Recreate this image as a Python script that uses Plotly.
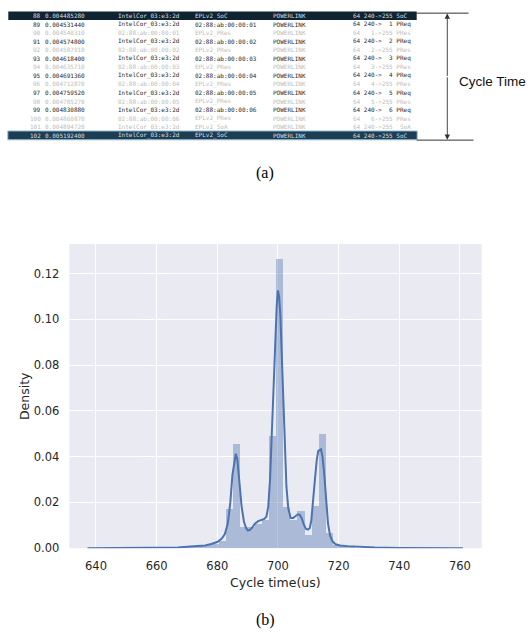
import plotly.graph_objects as go

# ---------------- data: (a) packet capture rows ----------------
pkt_no = [88, 89, 90, 91, 92, 93, 94, 95, 96, 97, 98, 99, 100, 101, 102]
pkt_time = ["0.004485280", "0.004531440", "0.004540310", "0.004574800", "0.004587910",
            "0.004618400", "0.004635710", "0.004691360", "0.004712870", "0.004759520",
            "0.004785270", "0.004830880", "0.004860870", "0.004894720", "0.005192400"]
pkt_src = ["IntelCor_03:e3:2d", "IntelCor_03:e3:2d", "02:88:ab:00:00:01", "IntelCor_03:e3:2d",
           "02:88:ab:00:00:02", "IntelCor_03:e3:2d", "02:88:ab:00:00:03", "IntelCor_03:e3:2d",
           "02:88:ab:00:00:04", "IntelCor_03:e3:2d", "02:88:ab:00:00:05", "IntelCor_03:e3:2d",
           "02:88:ab:00:00:06", "IntelCor_03:e3:2d", "IntelCor_03:e3:2d"]
pkt_dst = ["EPLv2_SoC", "02:88:ab:00:00:01", "EPLv2_PRes", "02:88:ab:00:00:02", "EPLv2_PRes",
           "02:88:ab:00:00:03", "EPLv2_PRes", "02:88:ab:00:00:04", "EPLv2_PRes",
           "02:88:ab:00:00:05", "EPLv2_PRes", "02:88:ab:00:00:06", "EPLv2_PRes",
           "EPLv2_SoA", "EPLv2_SoC"]
pkt_proto = ["POWERLINK"] * 15
pkt_info = ["64 240->255 SoC", "64 240->  1 PReq", "64   1->255 PRes", "64 240->  2 PReq",
            "64   2->255 PRes", "64 240->  3 PReq", "64   3->255 PRes", "64 240->  4 PReq",
            "64   4->255 PRes", "64 240->  5 PReq", "64   5->255 PRes", "64 240->  6 PReq",
            "64   6->255 PRes", "64 240->255  SoA", "64 240->255 SoC"]
pkt_kind = ["soc", "req", "res", "req", "res", "req", "res", "req", "res", "req", "res",
            "req", "res", "res", "soc2"]

# ---------------- data: (b) histogram + KDE ----------------
bin_edges = [668.8, 671.1, 673.5, 675.9, 678.2, 680.6, 682.9, 685.3, 687.6, 690.0, 692.4,
             694.7, 697.1, 699.4, 701.8, 704.2, 706.5, 708.9, 711.2, 713.6, 716.0, 718.3,
             720.7, 723.0, 725.4]
bin_density = [0.0004, 0.0008, 0.001, 0.0014, 0.002, 0.003, 0.017, 0.0455, 0.0093, 0.0093,
               0.0106, 0.0122, 0.049, 0.1264, 0.0181, 0.0122, 0.0162, 0.0057, 0.0184, 0.0498,
               0.0065, 0.0015, 0.0008, 0.0005]
kde_x = [637.2, 645, 655, 662, 667, 670, 673, 676, 678, 680, 681.5, 682.5, 683.5, 684.3, 685.0,
         685.6, 686.1, 686.6, 687.2, 688.0, 688.8, 689.5, 690.1, 690.8, 691.6, 692.5, 693.5,
         694.5, 695.5, 696.2, 696.8, 697.4, 698.0, 698.6, 699.2, 699.6, 700.0, 700.4, 700.8,
         701.3, 701.8, 702.3, 702.8, 703.4, 704.2, 705.0, 705.8, 706.6, 707.2, 707.8, 708.5,
         709.2, 709.9, 710.5, 711.0, 711.6, 712.2, 712.8, 713.3, 714.2, 714.7, 715.3, 715.9,
         716.5, 717.2, 718.0, 719.0, 720.5, 723, 727, 732, 740, 750, 761.0]
kde_y = [0.0, 0.0, 0.00002, 0.0001, 0.0003, 0.0006, 0.0009, 0.0012, 0.0018, 0.0027, 0.0042,
         0.0062, 0.011, 0.02, 0.032, 0.038, 0.0413, 0.039, 0.031, 0.0185, 0.0115, 0.0088,
         0.0077, 0.008, 0.0092, 0.0108, 0.0118, 0.0123, 0.0128, 0.0138, 0.018, 0.03, 0.05,
         0.073, 0.095, 0.106, 0.1127, 0.11, 0.102, 0.083, 0.06, 0.04, 0.027, 0.0175, 0.0132,
         0.0132, 0.014, 0.0148, 0.0146, 0.0132, 0.0105, 0.0085, 0.0081, 0.0088, 0.012, 0.0195,
         0.03, 0.0385, 0.0425, 0.0432, 0.04, 0.032, 0.0205, 0.011, 0.0055, 0.003, 0.0017,
         0.0012, 0.0009, 0.0006, 0.0003, 0.0001, 0.00002, 0.0]
x_ticks = [640, 660, 680, 700, 720, 740, 760]
y_ticks = [0.00, 0.02, 0.04, 0.06, 0.08, 0.10, 0.12]

# ---------------- layout helpers ----------------
W, H = 532, 634
def px(x):
    return x / W
def py(y):
    return 1 - y / H

BLUE = "#4c72b0"
fig = go.Figure()

centers = [(bin_edges[i] + bin_edges[i + 1]) / 2 for i in range(len(bin_density))]
widths = [bin_edges[i + 1] - bin_edges[i] for i in range(len(bin_density))]
fig.add_trace(go.Bar(x=centers, y=bin_density, width=widths,
                     marker=dict(color="rgba(76,114,176,0.4)", line=dict(width=0)),
                     showlegend=False, hoverinfo="skip"))
fig.add_trace(go.Scatter(x=kde_x, y=kde_y, mode="lines",
                         line=dict(color=BLUE, width=2), showlegend=False))

tickfont = dict(family="DejaVu Sans", size=11.5, color="#262626")
fig.update_layout(
    width=W, height=H, margin=dict(l=0, r=0, t=0, b=0),
    paper_bgcolor="white", plot_bgcolor="#eaeaf2", bargap=0,
    xaxis=dict(domain=[px(69.3), px(481.7)], range=[631.2, 767.2], tickvals=x_ticks,
               showgrid=True, gridcolor="white", gridwidth=1.3, zeroline=False,
               showline=False, ticks="", tickfont=tickfont, ticklabelstandoff=9),
    yaxis=dict(domain=[py(554.3), py(246.7)], range=[0, 0.133], tickvals=y_ticks,
               tickformat=".2f", showgrid=True, gridcolor="white", gridwidth=1.3,
               zeroline=False, showline=False, ticks="", tickfont=tickfont,
               ticklabelstandoff=9),
)

# axis titles
fig.add_annotation(x=px(275.5), y=py(589), xref="paper", yref="paper", showarrow=False,
                   text="Cycle time(us)", font=dict(family="DejaVu Sans", size=12.5, color="#262626"),
                   xanchor="center", yanchor="middle")
fig.add_annotation(x=px(24), y=py(400.5), xref="paper", yref="paper", showarrow=False,
                   text="Density", textangle=-90,
                   font=dict(family="DejaVu Sans", size=12.5, color="#262626"),
                   xanchor="center", yanchor="middle")

# ---------------- (a) table ----------------
row0, rowh = 15.8, 8.64
fig.add_shape(type="rect", xref="paper", yref="paper", x0=px(8.3), x1=px(416.7),
              y0=py(11.6), y1=py(20.2), fillcolor="#0f2331", line=dict(width=0), layer="below")
fig.add_shape(type="rect", xref="paper", yref="paper", x0=px(7.8), x1=px(417.2),
              y0=py(132.4), y1=py(141.4), fillcolor="#1d3e52",
              line=dict(width=1, color="#9cc3dd"), layer="below")

mono = "DejaVu Sans Mono"
colors = {"soc": "#d5dde2", "soc2": "#d5dde2", "req": "#2a2a2a", "res": "#bdbdbd"}
for i in range(len(pkt_no)):
    yc = py(row0 + i * rowh)
    c = colors[pkt_kind[i]]
    f = dict(family=mono, size=6, color=c)
    cols = [(41.5, str(pkt_no[i]), "right"), (43.5, pkt_time[i], "left"),
            (117.3, pkt_src[i], "left"), (194.3, pkt_dst[i], "left"),
            (271.7, pkt_proto[i], "left"), (351.7, pkt_info[i], "left")]
    for xx, t, anc in cols:
        fig.add_annotation(x=px(xx), y=yc, xref="paper", yref="paper", text=t,
                           showarrow=False, xanchor=anc, yanchor="middle", font=f,
                           borderpad=0)

# cycle-time bracket
fig.add_shape(type="line", xref="paper", yref="paper", x0=px(416.7), x1=px(468.5),
              y0=py(13.3), y1=py(13.3), line=dict(color="#333333", width=1))
fig.add_shape(type="line", xref="paper", yref="paper", x0=px(416.7), x1=px(473.5),
              y0=py(141.7), y1=py(141.7), line=dict(color="#333333", width=1))
for yh, ay in [(13.6, 64), (141.4, -64)]:
    fig.add_annotation(x=px(447.3), y=py(yh), xref="paper", yref="paper", text="",
                       showarrow=True, ax=0, ay=ay, arrowhead=2, arrowsize=1.2,
                       arrowwidth=0.9, arrowcolor="#333333")
fig.add_annotation(x=px(458), y=py(82), xref="paper", yref="paper", text="Cycle Time",
                   showarrow=False, xanchor="left", yanchor="middle", borderpad=0,
                   font=dict(family="Liberation Sans", size=13.5, color="#111111"))

# panel labels
fig.add_annotation(x=px(265), y=py(175), xref="paper", yref="paper", text="(a)",
                   showarrow=False, xanchor="center", yanchor="middle",
                   font=dict(family="Liberation Serif", size=16, color="black"))
fig.add_annotation(x=px(265), y=py(627), xref="paper", yref="paper", text="(b)",
                   showarrow=False, xanchor="center", yanchor="middle", borderpad=0,
                   font=dict(family="Liberation Serif", size=16, color="black"))

fig.write_html("out.html", config={"displayModeBar": False},
               post_script="document.body.style.margin='0';document.body.style.overflow='hidden';")
